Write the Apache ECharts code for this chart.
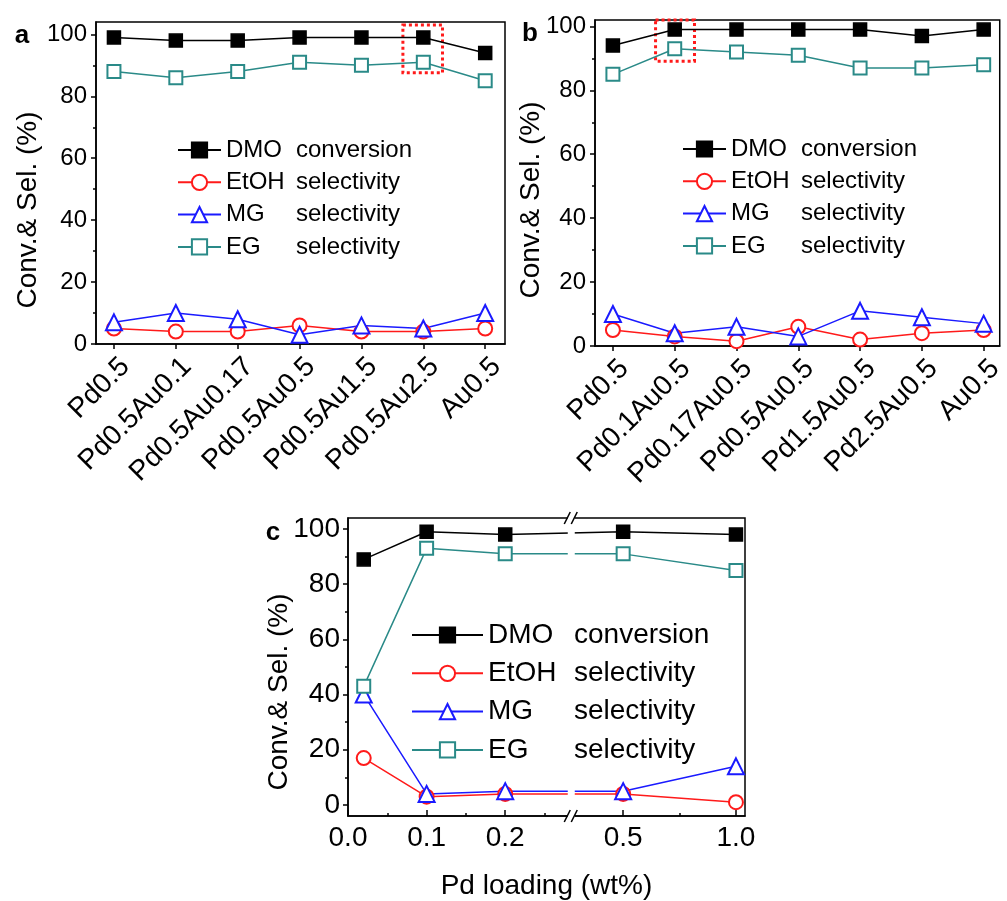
<!DOCTYPE html>
<html>
<head>
<meta charset="utf-8">
<script src="https://cdn.jsdelivr.net/npm/echarts@6/dist/echarts.min.js"></script>
<style>
  html, body { margin: 0; padding: 0; background: #fff; }
  #main { width: 1007px; height: 901px; }
</style>
</head>
<body>
<div id="main"></div>
<script>
var fontName = 'Liberation Sans, Arial, sans-serif';

// panel a / b categories
var labelsA = ['Pd0.5', 'Pd0.5Au0.1', 'Pd0.5Au0.17', 'Pd0.5Au0.5', 'Pd0.5Au1.5', 'Pd0.5Au2.5', 'Au0.5'];
var labelsB = ['Pd0.5', 'Pd0.1Au0.5', 'Pd0.17Au0.5', 'Pd0.5Au0.5', 'Pd1.5Au0.5', 'Pd2.5Au0.5', 'Au0.5'];

var dmoA  = [99, 98, 98, 99, 99, 99, 94];
var etohA = [5, 4, 4, 6, 4, 4, 5];
var mgA   = [7, 10, 8, 3, 6, 5, 10];
var egA   = [88, 86, 88, 91, 90, 91, 85];

var dmoB  = [94, 99, 99, 99, 99, 97, 99];
var etohB = [5, 3, 1.5, 6, 2, 4, 5];
var mgB   = [10, 4, 6, 3, 11, 9, 7];
var egB   = [85, 93, 92, 91, 87, 87, 88];

// panel c
var pdLoading = [0.02, 0.1, 0.2, 0.5, 1.0];
var dmoC  = [89, 99, 98, 99, 98];
var etohC = [17, 3, 4, 4, 1];
var mgC   = [40, 4, 5, 5, 14];
var egC   = [43, 93, 91, 91, 85];

var yTicks = [0, 20, 40, 60, 80, 100];
var yMinorTicks = [10, 30, 50, 70, 90];
var xTicksC = [0, 0.1, 0.2, 0.5, 1.0];
var xMinorTicksC = [0.05, 0.15, 0.25, 0.75];

var seriesNames = ['DMO conversion', 'EtOH selectivity', 'MG selectivity', 'EG selectivity'];

// broken x axis of panel c: left part linear, right part compressed
var breakAt = 0.284;
var resumeAt = 0.27;
var rightScale = 0.287;
function brokenX(x) {
    return x <= breakAt ? x : breakAt + (x - resumeAt) * rightScale;
}
function unbrokenX(u) {
    return u <= breakAt + 1e-9 ? u : resumeAt + (u - breakAt) / rightScale;
}

var chart = echarts.init(document.getElementById('main'));

function pairs(xs, ys) {
    return ys.map(function (v, i) { return [xs[i], v]; });
}
var idx = [0, 1, 2, 3, 4, 5, 6];

var styles = [
    { symbol: 'rect', size: 13, color: '#000000' },
    { symbol: 'emptyCircle', size: 14, color: '#ff1a1a' },
    { symbol: 'emptyTriangle', size: 16, color: '#1a1aff' },
    { symbol: 'emptyRect', size: 13, color: '#2a8a88' }
];

function makeSeries(k, data, xi, yi) {
    var s = styles[k];
    return {
        name: seriesNames[k],
        type: 'line',
        xAxisIndex: xi,
        yAxisIndex: yi,
        symbol: s.symbol,
        symbolSize: s.size,
        showAllSymbol: true,
        color: s.color,
        lineStyle: { color: s.color, width: 1.5 },
        itemStyle: { color: s.color, borderColor: s.color, borderWidth: 1.5 },
        animation: false,
        data: data
    };
}

function legendFor(left, top, fontSize, lineH, colWidth, iconWidth, gap) {
    return {
        orient: 'vertical',
        left: left,
        top: top,
        padding: 0,
        itemWidth: iconWidth,
        itemHeight: 19,
        itemGap: gap,
        selectedMode: false,
        data: seriesNames,
        formatter: function (name) {
            var p = name.split(' ');
            return '{n|' + p[0] + '}{d|' + p[1] + '}';
        },
        textStyle: {
            fontFamily: fontName,
            fontSize: fontSize,
            lineHeight: lineH,
            color: '#000',
            rich: {
                n: { width: colWidth, fontSize: fontSize, lineHeight: lineH, fontFamily: fontName, color: '#000' },
                d: { fontSize: fontSize, lineHeight: lineH, fontFamily: fontName, color: '#000' }
            }
        }
    };
}

function catXAxis(gridIndex, names, min, max) {
    return {
        type: 'value',
        gridIndex: gridIndex,
        position: 'bottom',
        min: min,
        max: max,
        axisLine: { show: true, onZero: false, lineStyle: { color: '#000', width: 1.5 } },
        axisTick: { show: true, inside: false, length: 5, customValues: idx, lineStyle: { color: '#000', width: 1.5 } },
        axisLabel: {
            customValues: idx,
            rotate: 45,
            margin: 7,
            verticalAlign: 'top',
            padding: [2, 0, 0, 0],
            fontSize: 28,
            fontFamily: fontName,
            color: '#000',
            formatter: function (v) { return names[Math.round(v)]; }
        },
        splitLine: { show: false }
    };
}

function yAxisPair(gridIndex, min, max, fontSize, margin) {
    return [
        {
            type: 'value',
            gridIndex: gridIndex,
            position: 'left',
            min: min,
            max: max,
            axisLine: { show: true, onZero: false, lineStyle: { color: '#000', width: 1.5 } },
            axisTick: { show: true, inside: false, length: 5, customValues: yTicks, lineStyle: { color: '#000', width: 1.5 } },
            axisLabel: { customValues: yTicks, margin: margin, fontSize: fontSize, fontFamily: fontName, color: '#000' },
            splitLine: { show: false }
        },
        {
            type: 'value',
            gridIndex: gridIndex,
            position: 'left',
            min: min,
            max: max,
            axisLine: { show: false, onZero: false },
            axisTick: { show: true, inside: false, length: 3, customValues: yMinorTicks, lineStyle: { color: '#000', width: 1.5 } },
            axisLabel: { show: false },
            splitLine: { show: false }
        }
    ];
}

var yAxes = [].concat(
    yAxisPair(0, 0, 104, 24, 9),
    yAxisPair(1, 0, 102, 24, 9),
    yAxisPair(2, -4, 104, 28, 8)
);

var boxStyle = {
    silent: true,
    itemStyle: { color: 'rgba(0,0,0,0)', borderColor: '#ff1a1a', borderWidth: 3, borderType: 'dotted' }
};

var seriesA = [
    makeSeries(0, pairs(idx, dmoA), 0, 0),
    makeSeries(1, pairs(idx, etohA), 0, 0),
    makeSeries(2, pairs(idx, mgA), 0, 0),
    makeSeries(3, pairs(idx, egA), 0, 0)
];
seriesA[0].markArea = Object.assign({ data: [[{ coord: [4.67, 103] }, { coord: [5.31, 87.6] }]] }, boxStyle);

var seriesB = [
    makeSeries(0, pairs(idx, dmoB), 1, 2),
    makeSeries(1, pairs(idx, etohB), 1, 2),
    makeSeries(2, pairs(idx, mgB), 1, 2),
    makeSeries(3, pairs(idx, egB), 1, 2)
];
seriesB[0].markArea = Object.assign({ data: [[{ coord: [0.69, 102] }, { coord: [1.32, 89.1] }]] }, boxStyle);

var xC = pdLoading.map(brokenX);
var seriesC = [
    makeSeries(0, pairs(xC, dmoC), 2, 4),
    makeSeries(1, pairs(xC, etohC), 2, 4),
    makeSeries(2, pairs(xC, mgC), 2, 4),
    makeSeries(3, pairs(xC, egC), 2, 4)
];

var xMaxC = 0.505;

var option = {
    backgroundColor: '#fff',
    textStyle: { fontFamily: fontName },
    grid: [
        { left: 96, top: 22, width: 409, height: 322, show: true, borderColor: '#000', borderWidth: 1.5, backgroundColor: 'transparent' },
        { left: 595, top: 20, width: 405, height: 326, show: true, borderColor: '#000', borderWidth: 1.5, backgroundColor: 'transparent' },
        { left: 348, top: 518, width: 397, height: 315, show: true, borderColor: '#000', borderWidth: 1.5, backgroundColor: 'transparent' }
    ],
    legend: [
        legendFor(177, 137, 24, 26, 70, 43, 6.3),
        legendFor(682, 136, 24, 26, 70, 43, 6.3),
        legendFor(411, 620, 28, 30, 86, 71, 8.3)
    ],
    xAxis: [
        catXAxis(0, labelsA, -0.29, 6.32),
        catXAxis(1, labelsB, -0.29, 6.26),
        {
            type: 'value',
            gridIndex: 2,
            position: 'bottom',
            min: 0,
            max: xMaxC,
            name: 'Pd loading (wt%)',
            nameLocation: 'middle',
            nameGap: 56,
            nameTextStyle: { fontSize: 28, fontFamily: fontName, color: '#000' },
            axisLine: { show: true, onZero: false, lineStyle: { color: '#000', width: 1.5 } },
            axisTick: { show: true, inside: true, length: 6, customValues: xTicksC.map(brokenX), lineStyle: { color: '#000', width: 1.5 } },
            axisLabel: {
                customValues: xTicksC.map(brokenX),
                margin: 8,
                fontSize: 28,
                fontFamily: fontName,
                color: '#000',
                formatter: function (u) { return unbrokenX(u).toFixed(1); }
            },
            splitLine: { show: false }
        },
        {
            type: 'value',
            gridIndex: 2,
            position: 'bottom',
            min: 0,
            max: xMaxC,
            axisLine: { show: false, onZero: false },
            axisTick: { show: true, inside: true, length: 3, customValues: xMinorTicksC.map(brokenX), lineStyle: { color: '#000', width: 1.5 } },
            axisLabel: { show: false },
            splitLine: { show: false }
        }
    ],
    yAxis: yAxes,
    series: [].concat(seriesA, seriesB, seriesC)
};

chart.setOption(option);

// panel letters, y names and the axis-break marks
var bx = chart.convertToPixel({ xAxisIndex: 2 }, breakAt);
var topC = chart.convertToPixel({ yAxisIndex: 4 }, 104);
var botC = chart.convertToPixel({ yAxisIndex: 4 }, -4);

function label(id, text, x, y, bold, rot) {
    return {
        id: id,
        type: 'text',
        x: x,
        y: y,
        rotation: rot || 0,
        z: 100,
        style: {
            text: text,
            fill: '#000',
            font: (bold ? 'bold ' : '') + (bold ? 26 : 28) + 'px ' + fontName,
            align: 'center',
            verticalAlign: 'middle'
        }
    };
}
function slash(id, x, y) {
    return {
        id: id,
        type: 'line',
        z: 101,
        shape: { x1: x - 3, y1: y + 6, x2: x + 3, y2: y - 6 },
        style: { stroke: '#000', lineWidth: 1.5 }
    };
}

chart.setOption({
    graphic: [
        label('la', 'a', 22, 36, true),
        label('lb', 'b', 530, 34, true),
        label('lc', 'c', 273, 533, true),
        label('ya', 'Conv.& Sel. (%)', 28, 210, false, Math.PI / 2),
        label('yb', 'Conv.& Sel. (%)', 531, 200, false, Math.PI / 2),
        label('yc', 'Conv.& Sel. (%)', 279, 692, false, Math.PI / 2),
        {
            id: 'gap',
            type: 'rect',
            z: 100,
            shape: { x: bx - 3.5, y: topC - 3, width: 7, height: botC - topC + 6 },
            style: { fill: '#fff' }
        },
        slash('s1', bx - 4, topC),
        slash('s2', bx + 3, topC),
        slash('s3', bx - 4, botC),
        slash('s4', bx + 3, botC)
    ]
});

window.onresize = function () {
    chart.resize();
};
</script>
</body>
</html>
